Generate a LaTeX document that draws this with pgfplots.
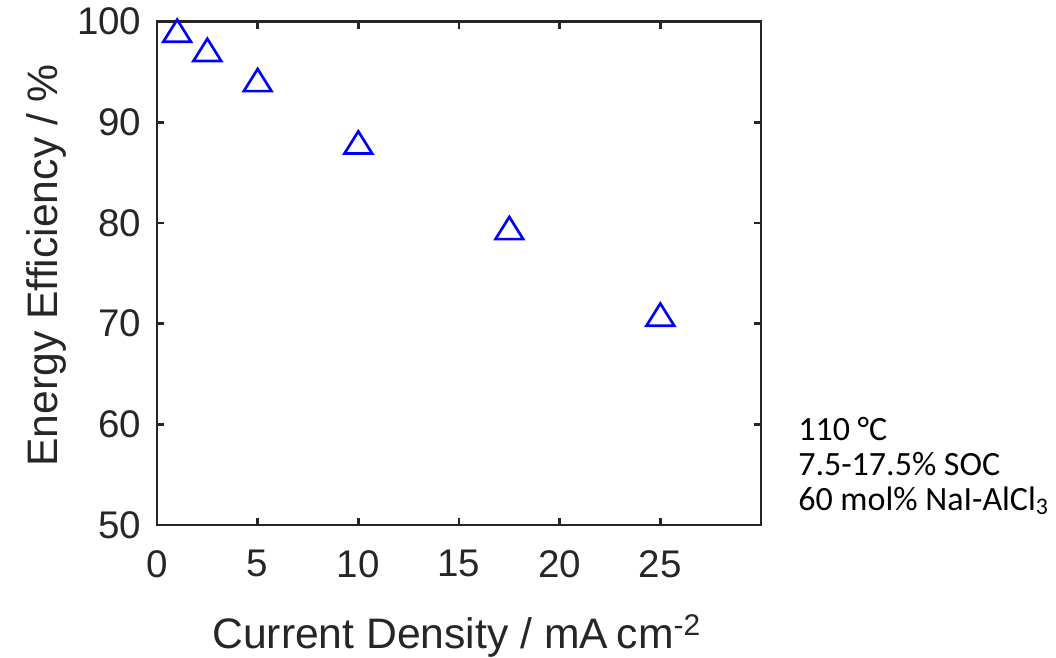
\documentclass[border=0pt]{standalone}
\usepackage{fontspec}
\setmainfont{Liberation Sans}
\newfontfamily\notefont{Carlito}
\usepackage{pgfplots}
\pgfplotsset{compat=1.18}

\definecolor{axisgray}{RGB}{38,38,38}
\definecolor{markblue}{RGB}{0,0,255}

% upward triangle centred on its bounding box
\pgfdeclareplotmark{uptri}{%
  \pgfpathmoveto{\pgfqpoint{0pt}{0.8\pgfplotmarksize}}%
  \pgfpathlineto{\pgfqpoint{-\pgfplotmarksize}{-0.8\pgfplotmarksize}}%
  \pgfpathlineto{\pgfqpoint{\pgfplotmarksize}{-0.8\pgfplotmarksize}}%
  \pgfpathclose
  \pgfusepathqstroke
}

\begin{document}
\begin{tikzpicture}
\useasboundingbox (-117.75pt,-99pt) rectangle (674.25pt,393.75pt);
\begin{axis}[
  at={(0,0)}, anchor=south west,
  width=453pt, height=377.5pt, scale only axis,
  xmin=0, xmax=30, ymin=50, ymax=100,
  xtick={0,5,...,25}, ytick={50,60,...,100},
  tick align=inside, major tick length=5.25pt,
  axis line style={line width=1.9pt, color=axisgray},
  tick style={line width=1.9pt, color=axisgray},
  /pgf/number format/assume math mode=true,
  tick label style={font=\fontsize{28.9pt}{34pt}\selectfont, color=axisgray},
  yticklabel style={anchor=east, inner sep=0pt, xshift=-11.5pt},
  xticklabel style={anchor=north, inner sep=0pt, yshift=-18.75pt},
  label style={font=\fontsize{32pt}{38pt}\selectfont, color=axisgray},
  xlabel={Current Density / mA\hspace{0.2em}cm\textsuperscript{-2}},
  ylabel={Energy Efficiency / \%},
  xlabel style={at={(axis description cs:0.496,-0.2444)}, anchor=base, inner sep=0pt},
  ylabel style={at={(axis description cs:-0.1647,0.516)}, anchor=base, inner sep=0pt, rotate=0},
  clip=false,
]
\addplot[only marks, mark=uptri, mark size=10.4pt, color=markblue,
  mark options={line width=2pt}] coordinates {
  (1,99.1) (2.5,97.2) (5,94.2) (10,88.0) (17.5,79.5) (25,70.9)
};
\end{axis}
\node[anchor=base west, inner sep=0pt, font=\notefont\fontsize{25.5pt}{30pt}\selectfont] at (480.75pt,63.75pt) {110 °C};
\node[anchor=base west, inner sep=0pt, font=\notefont\fontsize{25.5pt}{30pt}\selectfont] at (480.75pt,37.5pt) {7.5-17.5\% SOC};
\node[anchor=base west, inner sep=0pt, font=\notefont\fontsize{25.5pt}{30pt}\selectfont] at (480.75pt,11.25pt) {60 mol\% NaI-AlCl\textsubscript{3}};
\end{tikzpicture}
\end{document}
